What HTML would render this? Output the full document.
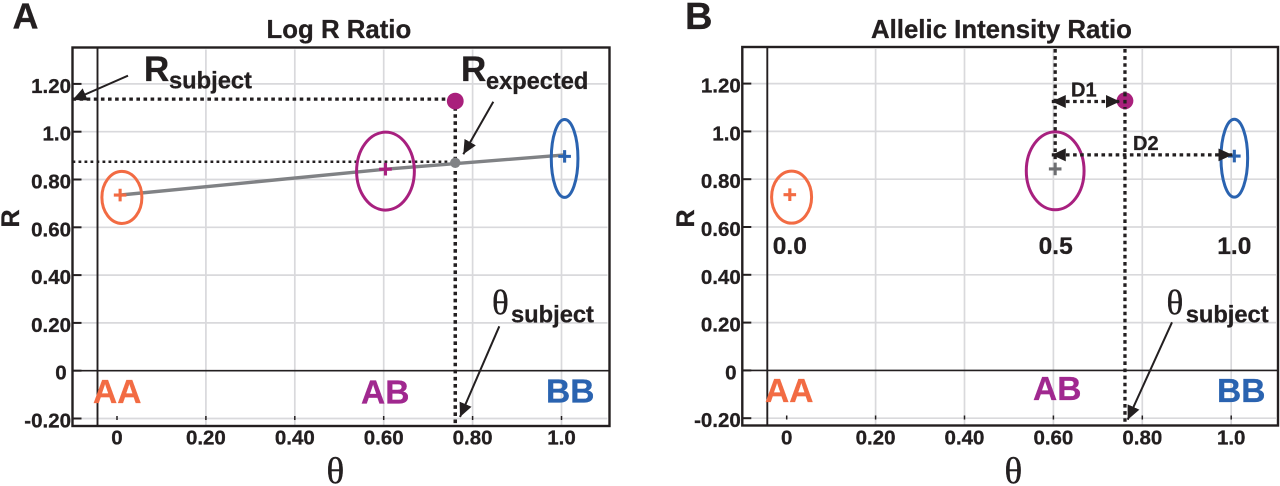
<!DOCTYPE html>
<html lang="en">
<head>
<meta charset="utf-8">
<title>Log R Ratio and Allelic Intensity Ratio</title>
<style>
html,body{margin:0;padding:0;background:#fff;width:1280px;height:486px;overflow:hidden}
svg{display:block}
text{font-family:"Liberation Sans",sans-serif;font-weight:bold;fill:#231f20;stroke:#231f20;stroke-width:0.3px}
.serif{font-family:"Liberation Serif",serif;font-weight:normal;stroke-width:0.4px}
</style>
</head>
<body>
<svg id="figure" xmlns="http://www.w3.org/2000/svg" width="1280" height="486" viewBox="0 0 1280 486">
<defs>
<marker id="head" markerUnits="userSpaceOnUse" markerWidth="15" markerHeight="14" refX="14" refY="7" orient="auto-start-reverse"><path d="M0,0.5 L14,7 L0,13.5 Z" fill="#231f20"/></marker>
</defs>
</svg>
<script>
const yTicks = [1.2, 1.0, 0.8, 0.6, 0.4, 0.2, 0, -0.2];
const yTickLabels = ["1.20", "1.0", "0.80", "0.60", "0.40", "0.20", "0", "-0.20"];
const xTicks = [0, 0.2, 0.4, 0.6, 0.8, 1.0];
const xTickLabels = ["0", "0.20", "0.40", "0.60", "0.80", "1.0"];
const genotypes = ["AA", "AB", "BB"];
const clusterTheta = [0.007, 0.604, 1.007];
const clusterR = [0.735, 0.843, 0.903];
const ellipseTheta = [0.011, 0.604, 1.007];
const ellipseR = [0.725, 0.835, 0.888];
const spreadTheta = [0.045, 0.065, 0.030];
const spreadR = [0.109, 0.163, 0.163];
const subjectTheta = [0.761];
const subjectR = [1.128];
const expectedR = [0.870];
const alleleRatios = ["0.0", "0.5", "1.0"];

const svg = document.getElementById('figure');
const NS = 'http://www.w3.org/2000/svg';
const INK = '#231f20', GRID = '#d9d9dc', GREY = '#808285';
const colors = {AA: '#f26b43', AB: '#a8207f', BB: '#2a63b0'};
const labelColors = {AA: '#f26b43', AB: '#a0288f', BB: '#2a63b0'};

function make(tag, attrs, parent, content) {
  const n = document.createElementNS(NS, tag);
  for (const k in attrs) n.setAttribute(k, attrs[k]);
  if (content !== undefined) n.textContent = content;
  parent.appendChild(n);
  return n;
}

function drawPanel(cfg) {
  const yScale = v => 370.7 + cfg.dy - 239 * v;
  const xScale = v => cfg.x0 + 444.5 * v;
  const g = make('g', {}, svg);
  
  
  let n;

  yTicks.forEach((v, i) => {
    if (v === 0) return;
    n = make('line', {x1: cfg.left + 2, x2: cfg.right - 2, y1: yScale(v), y2: yScale(v), stroke: GRID, 'stroke-width': 1.7}, g);
    
    
  });
  xTicks.forEach((v, i) => {
    if (v === 0) return;
    n = make('line', {x1: xScale(v), x2: xScale(v), y1: cfg.top + 2, y2: cfg.bottom - 1, stroke: GRID, 'stroke-width': 1.7}, g);
    
    
  });

  n = make('line', {x1: cfg.left, x2: cfg.right, y1: yScale(0), y2: yScale(0), stroke: INK, 'stroke-width': 1.6}, g);
  
  
  n = make('line', {x1: cfg.left + 25, x2: cfg.left + 25, y1: cfg.top, y2: cfg.bottom, stroke: INK, 'stroke-width': 1.9}, g);
  
  

  n = make('rect', {x: cfg.left, y: cfg.top, width: cfg.right - cfg.left, height: cfg.bottom - cfg.top, fill: 'none', stroke: INK, 'stroke-width': 2.4}, g);
  
  

  yTicks.forEach((v, i) => {
    n = make('line', {x1: cfg.left, x2: cfg.left + 9, y1: yScale(v), y2: yScale(v), stroke: INK, 'stroke-width': 2}, g);
    
    
    n = make('text', {x: cfg.left - (v === 0 ? 5.8 : 1.5), y: yScale(v) + 9, 'text-anchor': 'end', 'font-size': 20.5}, g, yTickLabels[i]);
    
    
  });
  xTicks.forEach((v, i) => {
    n = make('line', {x1: xScale(v), x2: xScale(v), y1: cfg.bottom - 10, y2: cfg.bottom - 6, stroke: INK, 'stroke-width': 1.5}, g);
    
    
    n = make('text', {x: xScale(v), y: 444.7, 'text-anchor': 'middle', 'font-size': 20.5}, g, xTickLabels[i]);
    
    
  });

  const sx = xScale(subjectTheta[0]), sy = yScale(subjectR[0]), ey = yScale(expectedR[0]);

  if (cfg.mode === 'A') {
    n = make('line', {x1: cfg.left, x2: sx - 8, y1: sy - 2, y2: sy - 2, stroke: INK, 'stroke-width': 3.3, 'stroke-dasharray': '3.6 3.5'}, g);
    
    
    n = make('line', {x1: cfg.left, x2: sx - 6, y1: ey - 1, y2: ey - 1, stroke: INK, 'stroke-width': 2.5, 'stroke-dasharray': '2.8 3.2'}, g);
    
    
    n = make('line', {x1: sx, x2: sx, y1: sy + 6, y2: cfg.bottom, stroke: INK, 'stroke-width': 3.5, 'stroke-dasharray': '3.6 3.5'}, g);
    
    
    const pts = clusterTheta.map((t, i) => xScale(t) + ' ' + yScale(clusterR[i])).join(',');
    n = make('polyline', {points: pts, fill: 'none', stroke: GREY, 'stroke-width': 3.4}, g);
    
    
  } else {
    n = make('line', {x1: xScale(clusterTheta[1]), x2: xScale(clusterTheta[1]), y1: cfg.top + 2, y2: yScale(clusterR[1]) - 9, stroke: INK, 'stroke-width': 3.3, 'stroke-dasharray': '3.6 3.5'}, g);
    
    
    n = make('line', {x1: sx, x2: sx, y1: cfg.top + 2, y2: cfg.bottom, stroke: INK, 'stroke-width': 3.3, 'stroke-dasharray': '3.6 3.5'}, g);
    
    
  }

  genotypes.forEach((name, i) => {
    const c = colors[name];
    n = make('ellipse', {cx: xScale(ellipseTheta[i]), cy: yScale(ellipseR[i]), rx: spreadTheta[i] * 444.5, ry: spreadR[i] * 239, fill: 'none', stroke: c, 'stroke-width': 3}, g);
    
    
    const px = xScale(clusterTheta[i]), py = yScale(clusterR[i]) + (i === 2 ? 1.5 : 0);
    const pc = (cfg.mode === 'B' && i === 1) ? '#6d6e71' : c;
    n = make('path', {d: 'M' + (px - 6.3) + ' ' + py + 'H' + (px + 6.3) + 'M' + px + ' ' + (py - 6.3) + 'V' + (py + 6.3), fill: 'none', stroke: pc, 'stroke-width': 3.1}, g);
    
    
    n = make('text', {x: cfg.geno[i][0], y: cfg.geno[i][1], 'font-size': 33.5, style: 'fill:' + labelColors[name] + ';stroke:' + labelColors[name]}, g, name);
    
    
  });

  n = make('circle', {cx: sx, cy: sy, r: 8.4, fill: '#a9207c'}, g);
  
  

  if (cfg.mode === 'A') {
    n = make('circle', {cx: sx, cy: ey, r: 5.2, fill: GREY}, g);
    
    
  } else {
    n = make('line', {x1: sx, x2: sx, y1: sy - 8, y2: sy + 8, stroke: INK, 'stroke-width': 3.3, 'stroke-dasharray': '3.6 3.5'}, g);
    
    
    const ax = xScale(clusterTheta[1]) - 3.4;
    n = make('line', {x1: ax, x2: sx - 5, y1: sy + 0.7, y2: sy + 0.7, stroke: INK, 'stroke-width': 3.3, 'stroke-dasharray': '3.6 3.5', 'marker-start': 'url(#head)', 'marker-end': 'url(#head)'}, g);
    
    
    n = make('line', {x1: ax, x2: xScale(clusterTheta[2]) - 2, y1: yScale(clusterR[2]) + 0.3, y2: yScale(clusterR[2]) + 0.3, stroke: INK, 'stroke-width': 3.3, 'stroke-dasharray': '3.6 3.5', 'marker-start': 'url(#head)', 'marker-end': 'url(#head)'}, g);
    
    
    alleleRatios.forEach((label, i) => {
      n = make('text', {x: xScale(clusterTheta[i]) + (i === 1 ? 0.5 : 0), y: 254, 'text-anchor': 'middle', 'font-size': 24.5}, g, label);
      
      
    });
  }
}

drawPanel({name: 'panel-a-log-r-ratio', mode: 'A', x0: 117, dy: 0, left: 72.5, right: 609.5, top: 47.5, bottom: 426,
  geno: [[93, 403], [361, 403.7], [546, 402.3]]});
drawPanel({name: 'panel-b-allelic-intensity-ratio', mode: 'B', x0: 786.7, dy: -0.3, left: 742.3, right: 1278, top: 47, bottom: 425.5,
  geno: [[765, 402], [1033, 400], [1217, 402]]});

const notes = [
  ['panel-letter-a', 12.5, 28.5, 'A', 36, ''],
  ['panel-letter-b', 685, 29, 'B', 38, ''],
  ['panel-a-title', 266.5, 38, 'Log R Ratio', 25.8, ''],
  ['panel-b-title', 871, 38, 'Allelic Intensity Ratio', 25.8, ''],
  ['r-subject-symbol', 144, 81, 'R', 35, ''],
  ['r-subject-subscript', 169, 88.5, 'subject', 23.7, ''],
  ['r-expected-symbol', 461, 81, 'R', 35, ''],
  ['r-expected-subscript', 486, 89, 'expected', 23.6, ''],
  ['theta-subject-symbol-a', 492, 314, 'θ', 35, 'serif'],
  ['theta-subject-subscript-a', 511, 322.3, 'subject', 23.7, ''],
  ['theta-subject-symbol-b', 1166.5, 314, 'θ', 35, 'serif'],
  ['theta-subject-subscript-b', 1185.7, 322.3, 'subject', 23.7, ''],
  ['x-axis-title-a', 326.5, 483, 'θ', 37, 'serif'],
  ['x-axis-title-b', 1004.5, 483, 'θ', 37, 'serif'],
  ['d1-label', 1071, 96.7, 'D1', 20, ''],
  ['d2-label', 1133, 150, 'D2', 20, '']
];
notes.forEach(item => {
  const n = make('text', {x: item[1], y: item[2], 'font-size': item[4], class: item[5]}, svg, item[3]);
  
  
});

[['y-axis-title-a', 19], ['y-axis-title-b', 694]].forEach(item => {
  const n = make('text', {transform: 'translate(' + item[1] + ' 218.5) rotate(-90)', 'text-anchor': 'middle', 'font-size': 25}, svg, 'R');
  
  
});

const callouts = [
  ['r-subject-arrow', 128, 75.7, 72.5, 100],
  ['r-expected-arrow', 493.3, 101.7, 463.3, 154.3],
  ['theta-subject-arrow-a', 499.3, 326.3, 460, 417],
  ['theta-subject-arrow-b', 1172, 322.3, 1127.7, 419.7]
];
callouts.forEach(item => {
  const n = make('line', {x1: item[1], y1: item[2], x2: item[3], y2: item[4], stroke: INK, 'stroke-width': 2, 'marker-end': 'url(#head)'}, svg);
  
  
});
</script>
</body>
</html>
